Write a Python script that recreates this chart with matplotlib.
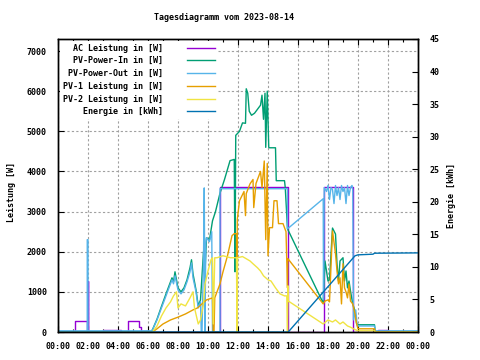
import matplotlib
matplotlib.use("Agg")
import matplotlib.pyplot as plt
from matplotlib.ticker import MultipleLocator, FixedLocator

# hours of day, watts / kWh
ac_t = [0, 1.13, 1.13, 1.93, 1.93, 1.98, 1.98, 2.02, 2.02, 3.0, 3.0, 4.2, 4.2, 4.65, 4.65, 5.4, 5.4,
        5.55, 5.55, 6.0, 6.0, 10.8, 10.8, 15.3, 15.3, 17.7, 17.7, 19.65, 19.65, 21.3, 21.3, 22.0, 22.0, 24]
ac_w = [0, 0, 270, 270, 0, 0, 1280, 1280, 0, 0, 40, 40, 0, 0, 280, 280, 130,
        130, 20, 20, 0, 0, 3620, 3620, 0, 0, 3620, 3620, 0, 0, 40, 40, 0, 0]

in_t = [0.0, 6.2, 6.3, 6.6, 6.9, 7.2, 7.4, 7.6, 7.7, 7.8, 8.0, 8.2, 8.4, 8.6, 8.8, 8.9, 9.0, 9.2, 9.35,
        9.5, 9.7, 9.8, 9.9, 10.1, 10.3, 10.5, 10.8, 11.1, 11.47, 11.75, 11.8, 11.85, 12.1, 12.3, 12.5,
        12.55, 12.65, 12.75, 12.9, 13.1, 13.3, 13.5, 13.6, 13.7, 13.8, 13.85, 13.95, 14.05, 14.1, 14.5,
        14.55, 15.1, 15.15, 15.3, 17.68, 17.8, 18.0, 18.1, 18.3, 18.5, 18.6, 18.7, 18.8, 19.0, 19.1,
        19.2, 19.3, 19.4, 19.5, 19.65, 19.8, 19.9, 20.0, 21.1, 21.15, 24.0]
in_w = [0, 0, 60, 320, 640, 950, 1150, 1350, 1250, 1500, 1100, 1000, 1100, 1300, 1600, 1800, 1450, 1050, 650,
        800, 2000, 1500, 2350, 2300, 2770, 3000, 3460, 3800, 4270, 4300, 1500, 4900, 5000, 5210, 5200,
        6060, 5950, 5500, 5400, 5450, 5550, 5650, 5900, 5300, 5950, 4600, 6000, 4600, 4590, 4590,
        3770, 3770, 3600, 2570, 720, 1770, 1270, 1300, 2590, 2440, 1700, 1270, 1770, 1850, 1270,
        1520, 1100, 1270, 1020, 700, 520, 220, 180, 180, 0, 0]

out_t = [0.0, 1.95, 1.95, 2.0, 2.0, 6.2, 6.3, 6.6, 6.9, 7.2, 7.4, 7.6, 7.7, 7.8, 8.0, 8.2, 8.4, 8.6, 8.8,
         8.9, 9.0, 9.2, 9.35, 9.5, 9.55, 9.6, 9.7, 9.75, 9.8, 9.85, 9.9, 10.1, 10.25, 10.3, 10.8, 10.8,
         15.3, 15.3, 17.68, 17.7, 17.75, 17.9, 18.0, 18.1, 18.2, 18.3, 18.4, 18.5, 18.6, 18.7, 18.8,
         18.9, 19.0, 19.1, 19.2, 19.3, 19.4, 19.5, 19.6, 19.65, 19.7, 19.85, 19.95, 21.1, 21.15, 24.0]
out_w = [30, 30, 2300, 2300, 30, 30, 50, 300, 600, 900, 1100, 1300, 1200, 1400, 1050, 950, 1050, 1250, 1500,
         1720, 1350, 1000, 600, 750, 0, 0, 1800, 3590, 0, 2200, 2350, 2250, 2500, 0, 0, 3570,
         3570, 2570, 3320, 800, 3600, 3500, 3650, 3300, 3600, 3550, 3200, 3650, 3400, 3600, 3300,
         3650, 3500, 3600, 3200, 3650, 3400, 3600, 3650, 3550, 300, 550, 150, 150, 30, 30]

p1_t = [0.0, 6.3, 6.6, 7.0, 7.5, 8.0, 8.5, 9.0, 9.3, 9.6, 9.9, 10.3, 10.35, 10.4, 10.45, 10.8, 11.0, 11.3,
        11.6, 11.75, 11.9, 11.93, 11.95, 12.1, 12.4, 12.5, 12.55, 12.8, 13.0, 13.05, 13.2, 13.4, 13.5,
        13.6, 13.75, 13.85, 13.95, 14.0, 14.1, 14.3, 14.4, 14.6, 14.7, 15.0, 15.2, 15.3, 15.32, 17.68,
        17.8, 18.0, 18.1, 18.3, 18.5, 18.6, 18.7, 18.8, 18.9, 19.0, 19.1, 19.2, 19.3, 19.4, 19.5,
        19.65, 19.8, 19.9, 20.0, 21.1, 21.15, 24.0]
p1_w = [0, 0, 80, 200, 300, 370, 450, 550, 600, 700, 800, 850, 0, 0, 850, 1200, 1500, 1900,
        2400, 2450, 2450, 0, 2800, 3270, 3500, 2900, 3450, 3690, 3800, 3100, 3700, 3900, 4000,
        3600, 4260, 2300, 4200, 1900, 2600, 2600, 3270, 3270, 2700, 2700, 2500, 1100, 1830, 700,
        770, 800, 750, 2520, 1950, 1520, 1200, 1350, 700, 1700, 1100, 1000, 850, 1200, 770,
        700, 450, 220, 80, 80, 0, 0]

p2_t = [0.0, 6.3, 6.6, 6.9, 7.2, 7.5, 7.7, 7.9, 8.0, 8.2, 8.5, 8.8, 9.0, 9.1, 9.35, 9.5, 9.7, 9.8, 10.0,
        10.2, 10.3, 10.35, 10.45, 10.6, 11.0, 11.5, 11.9, 11.93, 11.97, 12.3, 12.8, 13.0, 13.3, 13.5,
        13.7, 14.0, 14.2, 14.5, 14.8, 15.1, 15.25, 15.3, 15.33, 15.36, 17.68, 18.0, 18.3, 18.5, 18.8,
        19.0, 19.3, 19.5, 19.8, 20.0, 21.1, 21.15, 24.0]
p2_w = [0, 0, 150, 400, 600, 750, 900, 1000, 600, 700, 650, 850, 1000, 600, 200, 300, 700, 1200, 1520,
        1800, 1850, 200, 1850, 1850, 1900, 1850, 1850, 0, 1850, 1880, 1770, 1700, 1600, 1520,
        1400, 1300, 1270, 1100, 950, 900, 900, 0, 1150, 770, 200, 300, 250, 300, 200,
        250, 150, 120, 60, 30, 30, 0, 0]

en_t = [0.0, 15.35, 19.8, 20.0, 21.0, 21.1, 24.0]
en_k = [0.0, 0.0, 11.7, 11.85, 11.95, 12.1, 12.15]

labels = ["AC Leistung in [W]", "PV-Power-In in [W]", "PV-Power-Out in [W]",
          "PV-1 Leistung in [W]", "PV-2 Leistung in [W]", "Energie in [kWh]"]
colors = ["#9400d3", "#009e73", "#56b4e9", "#e69f00", "#f0e442", "#0072b2"]
xtick_labels = ["%02d:00" % (h % 24) for h in range(0, 25, 2)]

plt.rcParams['font.family'] = 'DejaVu Sans Mono'
plt.rcParams['font.size'] = 6
plt.rcParams['font.weight'] = 'bold'

fig = plt.figure(figsize=(4.8, 3.6), dpi=100)
ax = fig.add_axes([58/480, 1-332/360, 360/480, 293/360])
ax2 = ax.twinx()

width = len(max(labels, key=len))
series = [(ac_t, ac_w), (in_t, in_w), (out_t, out_w), (p1_t, p1_w), (p2_t, p2_w)]
handles = []
for (t, w), lab, c in zip(series, labels, colors):
    h, = ax.plot(t, w, color=c, lw=1.0, label=lab.rjust(width))
    handles.append(h)
h, = ax2.plot(en_t, en_k, color=colors[5], lw=1.0, label=labels[5].rjust(width))
handles.append(h)

ax.set_xlim(0, 24)
ax.set_ylim(0, 7300)
ax2.set_ylim(0, 45)

ax.xaxis.set_major_locator(FixedLocator(range(0, 25, 2)))
ax.set_xticklabels(xtick_labels)
ax.xaxis.set_minor_locator(MultipleLocator(1))
ax.yaxis.set_major_locator(MultipleLocator(1000))
ax2.yaxis.set_major_locator(MultipleLocator(5))

ax.tick_params(which='both', direction='in', top=True, right=False, width=0.8)
ax.tick_params(which='major', length=4)
ax.tick_params(which='minor', length=2.5)
ax.tick_params(axis='x', pad=7)
ax.tick_params(axis='y', pad=8)
ax2.tick_params(direction='in', length=4, width=0.8, pad=8)

ax.grid(True, which='major', color='#a0a0a0', linestyle=(0, (2, 2)), linewidth=0.8)
ax.set_axisbelow(True)
for a in (ax, ax2):
    for s in a.spines.values():
        s.set_linewidth(1.0)

leg = ax2.legend(handles=handles, loc='upper left', markerfirst=False, frameon=True,
                 facecolor='white', edgecolor='none', framealpha=1, fancybox=False,
                 handlelength=3.4, handletextpad=2.9, labelspacing=0.45,
                 borderaxespad=0.25, borderpad=0.3)

fig.text(224/480, 1-18/360, "Tagesdiagramm vom 2023-08-14", ha='center', va='center')
fig.text(12/480, 1-192/360, "Leistung [W]", rotation=90, ha='center', va='center')
fig.text(452/480, 1-195/360, "Energie [kWh]", rotation=90, ha='center', va='center')

fig.savefig("out.png", dpi=100)
